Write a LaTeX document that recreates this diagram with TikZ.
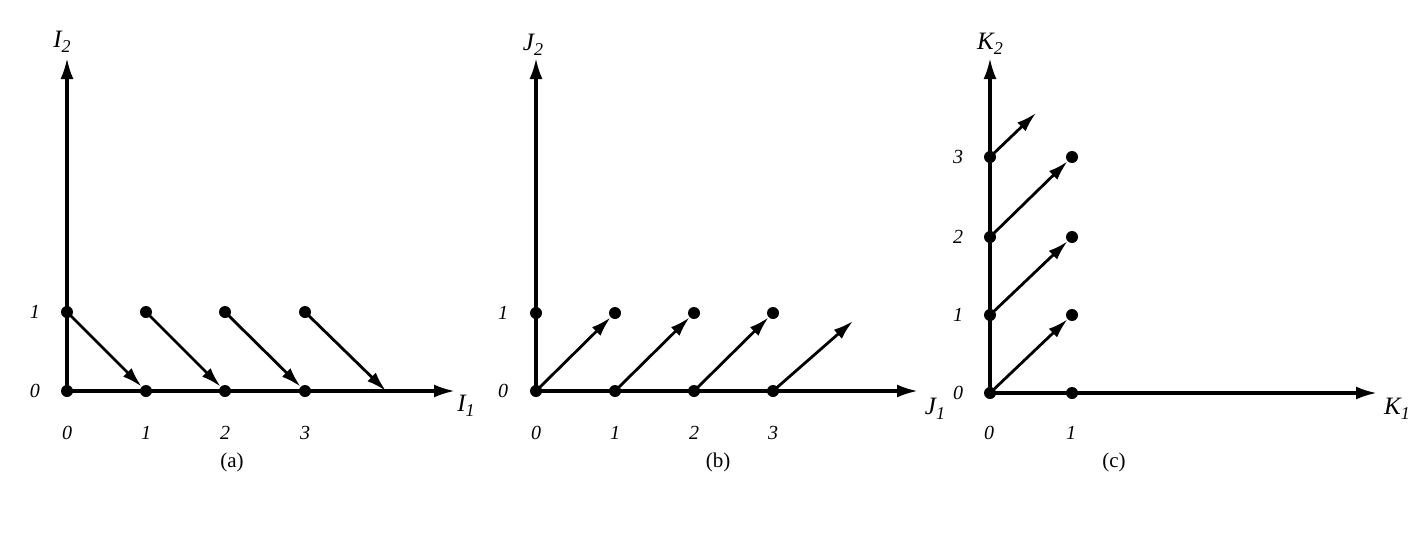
\documentclass[tikz,border=0pt]{standalone}
\usepackage{fontspec}
\setmainfont{Liberation Serif}
\usetikzlibrary{arrows.meta}
\newcommand{\axname}[2]{{\itshape #1}\raisebox{-0.45ex}{\fontsize{18}{18}\selectfont\itshape #2}}
\begin{document}
\begin{tikzpicture}[x=1pt,y=-1pt,
  dot/.style={circle,fill=black,inner sep=0pt,minimum size=12pt},
  axisline/.style={line width=3.2pt,-{Latex[length=21pt,width=13pt]}},
  vec/.style={line width=2.8pt,-{Latex[length=20pt,width=12pt]}},
  ticklab/.style={font=\fontsize{20}{20}\selectfont\itshape},
  axlab/.style={font=\fontsize{25}{25}\selectfont},
  captext/.style={font=\fontsize{21}{21}\selectfont}]
\useasboundingbox (0,0) rectangle (1428,533);

% ---------------- panel (a) ----------------
\coordinate (aO) at (67,391);
\coordinate (aX) at (455,391);
\coordinate (aY) at (67,58);
\coordinate (a40) at (386,391);
\draw[axisline] (aO) -- (aX);
\draw[axisline] (aO) -- (aY);
\node[dot] (a00) at (67,391) {};
\node[dot] (a01) at (67,312) {};
\node[dot] (a10) at (146,391) {};
\node[dot] (a11) at (146,312) {};
\node[dot] (a20) at (225,391) {};
\node[dot] (a21) at (225,312) {};
\node[dot] (a30) at (305,391) {};
\node[dot] (a31) at (305,312) {};
\draw[vec] (a01.center) -- (a10);
\draw[vec] (a11.center) -- (a20);
\draw[vec] (a21.center) -- (a30);
\draw[vec] (a31.center) -- (a40);
\node[axlab] (aly) at (62,42) {\axname{I}{2}};
\node[axlab] (alx) at (466,406) {\axname{I}{1}};
\node[ticklab] (at1) at (35,312) {1};
\node[ticklab] (at0) at (35,391) {0};
\node[ticklab] (ax0) at (67,433) {0};
\node[ticklab] (ax1) at (146,433) {1};
\node[ticklab] (ax2) at (225,433) {2};
\node[ticklab] (ax3) at (305,433) {3};
\node[captext] (capa) at (232,462) {(a)};

% ---------------- panel (b) ----------------
\coordinate (bO) at (536,391);
\coordinate (bX) at (918,391);
\coordinate (bY) at (536,58);
\coordinate (b41) at (853,321);
\draw[axisline] (bO) -- (bX);
\draw[axisline] (bO) -- (bY);
\node[dot] (b00) at (536,391) {};
\node[dot] (b01) at (536,313) {};
\node[dot] (b10) at (615,391) {};
\node[dot] (b11) at (615,313) {};
\node[dot] (b20) at (694,391) {};
\node[dot] (b21) at (694,313) {};
\node[dot] (b30) at (773,391) {};
\node[dot] (b31) at (773,313) {};
\draw[vec] (b00.center) -- (b11);
\draw[vec] (b10.center) -- (b21);
\draw[vec] (b20.center) -- (b31);
\draw[vec] (b30.center) -- (b41);
\node[axlab] (bly) at (533,45) {\axname{J}{2}};
\node[axlab] (blx) at (935,409) {\axname{J}{1}};
\node[ticklab] (bt1) at (503,313) {1};
\node[ticklab] (bt0) at (503,391) {0};
\node[ticklab] (bx0) at (536,433) {0};
\node[ticklab] (bx1) at (615,433) {1};
\node[ticklab] (bx2) at (694,433) {2};
\node[ticklab] (bx3) at (773,433) {3};
\node[captext] (capb) at (718,462) {(b)};

% ---------------- panel (c) ----------------
\coordinate (cO) at (990,393);
\coordinate (cX) at (1377,393);
\coordinate (cY) at (990,58);
\coordinate (c14) at (1036,113);
\draw[axisline] (cO) -- (cX);
\draw[axisline] (cO) -- (cY);
\node[dot] (c00) at (990,393) {};
\node[dot] (c10) at (1072,393) {};
\node[dot] (c01) at (990,315) {};
\node[dot] (c02) at (990,237) {};
\node[dot] (c03) at (990,157) {};
\node[dot] (c11) at (1072,315) {};
\node[dot] (c12) at (1072,237) {};
\node[dot] (c13) at (1072,157) {};
\draw[vec] (c00.center) -- (c11);
\draw[vec] (c01.center) -- (c12);
\draw[vec] (c02.center) -- (c13);
\draw[vec] (c03.center) -- (c14);
\node[axlab] (cly) at (990,44) {\axname{K}{2}};
\node[axlab] (clx) at (1397,409) {\axname{K}{1}};
\node[ticklab] (ct3) at (958,157) {3};
\node[ticklab] (ct2) at (958,237) {2};
\node[ticklab] (ct1) at (958,315) {1};
\node[ticklab] (ct0) at (958,393) {0};
\node[ticklab] (cx0) at (989,433) {0};
\node[ticklab] (cx1) at (1071,433) {1};
\node[captext] (capc) at (1114,462) {(c)};
\end{tikzpicture}
\end{document}
